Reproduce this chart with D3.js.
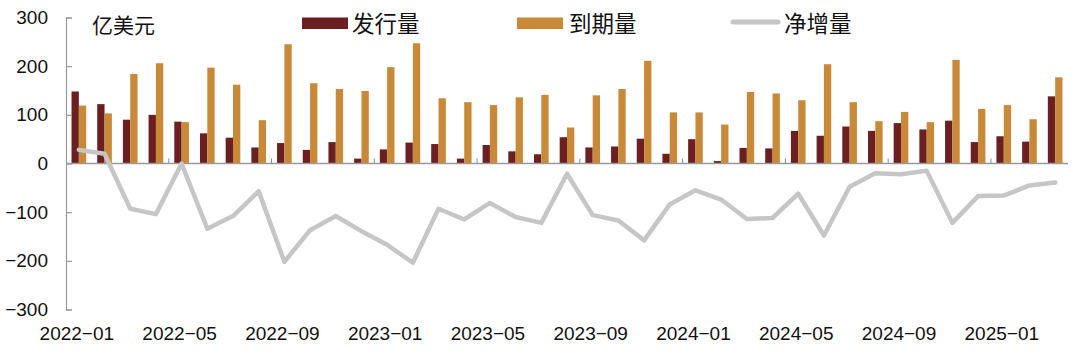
<!DOCTYPE html>
<html>
<head>
<meta charset="utf-8">
<script src="https://cdn.jsdelivr.net/npm/d3@7"></script>
<style>
html,body{margin:0;padding:0;background:#fff;}
svg{display:block;}
</style>
</head>
<body>
<svg id="chart" width="1080" height="356"></svg>
<script>
const months = [
"2022-01","2022-02","2022-03","2022-04","2022-05","2022-06","2022-07","2022-08","2022-09","2022-10","2022-11","2022-12",
"2023-01","2023-02","2023-03","2023-04","2023-05","2023-06","2023-07","2023-08","2023-09","2023-10","2023-11","2023-12",
"2024-01","2024-02","2024-03","2024-04","2024-05","2024-06","2024-07","2024-08","2024-09","2024-10","2024-11","2024-12",
"2025-01","2025-02","2025-03"];
const issuance = [148,122,90,100,86,62,53,33,42,28,44,10,29,43,40,10,38,25,19,54,33,35,51,20,50,5,32,31,67,57,76,67,83,70,88,44,56,45,138];
const maturity = [119,103,184,206,85,197,162,89,245,165,153,149,198,247,134,126,120,136,141,74,140,153,211,105,105,80,147,144,130,204,126,87,106,85,213,112,120,91,177];
const netIncrease = [28,20,-93,-104,0,-134,-108,-57,-202,-137,-108,-139,-167,-204,-93,-115,-81,-110,-122,-21,-106,-117,-158,-84,-55,-74,-114,-112,-62,-148,-48,-20,-22,-15,-122,-67,-66,-45,-39];
const yTicks = [-300,-200,-100,0,100,200,300];
const xTickLabels = ["2022-01","2022-05","2022-09","2023-01","2023-05","2023-09","2024-01","2024-05","2024-09","2025-01"];
const seriesNames = ["发行量","到期量","净增量"];
const unitLabel = "亿美元";

const colors = {issue:"#6c1f20", mature:"#c88a38", net:"#c6c6c6", axis:"#9a9a9a"};
const latin = "'Liberation Sans', Arial, sans-serif";
const cjk = "'Noto Sans CJK SC', sans-serif";

const svg = d3.select("#chart");
const mLeft = 66, mRight = 1068, mTop = 17.5, mBottom = 309.5;

const x = d3.scaleBand().domain(months).range([mLeft, mRight]).paddingInner(0.43).paddingOuter(0.215);
const step = x.step();
const y = d3.scaleLinear().domain([-300, 300]).range([mBottom, mTop]);
const half = x.bandwidth() / 2;

// bars
svg.append("g").selectAll("rect").data(months).join("rect")
  .attr("x", d => x(d))
  .attr("width", half)
  .attr("y", (d,i) => y(Math.max(0, issuance[i])))
  .attr("height", (d,i) => Math.abs(y(issuance[i]) - y(0)))
  .attr("fill", colors.issue);
svg.append("g").selectAll("rect").data(months).join("rect")
  .attr("x", d => x(d) + half)
  .attr("width", half)
  .attr("y", (d,i) => y(Math.max(0, maturity[i])))
  .attr("height", (d,i) => Math.abs(y(maturity[i]) - y(0)))
  .attr("fill", colors.mature);

// y axis
const yAxis = d3.axisLeft(y).tickValues(yTicks).tickSize(-6).tickPadding(18)
  .tickFormat(d => d < 0 ? "\u2212" + Math.abs(d) : d);
const gy = svg.append("g").attr("transform", `translate(${mLeft},0)`).call(yAxis);
gy.select(".domain").attr("stroke", colors.axis).attr("stroke-width", 1.2);
gy.selectAll(".tick line").attr("stroke", colors.axis).attr("stroke-width", 1.2);
gy.selectAll(".tick text").attr("font-family", latin).attr("font-size", 19).attr("fill", "#111");

// x axis at zero
svg.append("line").attr("x1", mLeft).attr("x2", mRight).attr("y1", y(0)).attr("y2", y(0))
  .attr("stroke", colors.axis).attr("stroke-width", 1.4);
// boundary ticks every 4 months
const tickIdx = d3.range(4, months.length, 4);
svg.append("g").selectAll("line").data(tickIdx).join("line")
  .attr("x1", i => x(months[i]) - x.paddingInner()*step/2)
  .attr("x2", i => x(months[i]) - x.paddingInner()*step/2)
  .attr("y1", y(0)).attr("y2", y(0) - 5)
  .attr("stroke", "#8090a0").attr("stroke-width", 1);

// x labels
svg.append("g").selectAll("text").data(xTickLabels).join("text")
  .attr("x", d => x(d) + x.bandwidth()/2 - 2)
  .attr("y", 340)
  .attr("text-anchor", "middle")
  .attr("font-family", latin).attr("font-size", 19).attr("fill", "#111")
  .text(d => d.replace("-", "\u2212"));

// net line
const line = d3.line().x((d,i) => x(months[i]) + x.bandwidth()/2).y(d => y(d));
svg.append("path").datum(netIncrease).attr("d", line)
  .attr("fill", "none").attr("stroke", colors.net).attr("stroke-width", 4.5)
  .attr("stroke-linejoin", "round").attr("stroke-linecap", "round");

// unit label
svg.append("text").attr("x", 92).attr("y", 33).attr("font-family", cjk).attr("font-size", 21)
  .attr("fill", "#111").text(unitLabel);

// legend
const lg = svg.append("g");
lg.append("rect").attr("x", 302).attr("y", 17.5).attr("width", 46).attr("height", 11.5).attr("fill", colors.issue);
lg.append("text").attr("x", 352).attr("y", 31.5).attr("font-family", cjk).attr("font-size", 22.5).attr("fill", "#111").text(seriesNames[0]);
lg.append("rect").attr("x", 517).attr("y", 17.5).attr("width", 46).attr("height", 11.5).attr("fill", colors.mature);
lg.append("text").attr("x", 569).attr("y", 31.5).attr("font-family", cjk).attr("font-size", 22.5).attr("fill", "#111").text(seriesNames[1]);
lg.append("line").attr("x1", 733).attr("x2", 778).attr("y1", 22).attr("y2", 22)
  .attr("stroke", colors.net).attr("stroke-width", 5).attr("stroke-linecap", "round");
lg.append("text").attr("x", 784).attr("y", 31.5).attr("font-family", cjk).attr("font-size", 22.5).attr("fill", "#111").text(seriesNames[2]);
</script>
</body>
</html>
